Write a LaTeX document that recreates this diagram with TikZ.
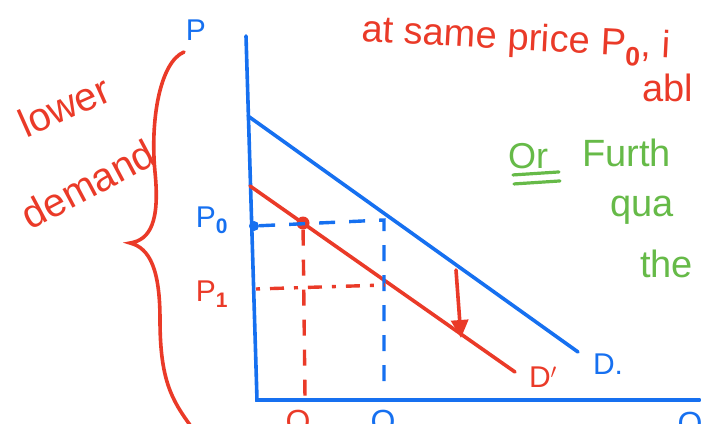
\documentclass[tikz,border=0pt]{standalone}
\usepackage{fontspec}
\setmainfont{Liberation Sans}
\usetikzlibrary{arrows.meta,positioning,calc}
\definecolor{penred}{RGB}{234,58,40}
\definecolor{penblue}{RGB}{22,112,240}
\definecolor{pengreen}{RGB}{102,186,72}

\begin{document}
\begin{tikzpicture}[
  x=1pt,y=-1pt,
  axis/.style={draw=penblue,line width=3.6pt,line cap=round},
  curve/.style={line width=3.6pt,line cap=round},
  guide/.style={line width=3.4pt,dash pattern=on 16pt off 14pt},
  dotguide/.style={line width=3.4pt,dash pattern=on 4pt off 10pt on 14pt off 10pt},
  redtxt/.style={text=penred,inner sep=0pt,font=\fontsize{30}{32}\selectfont},
  bluetxt/.style={text=penblue,inner sep=0pt,font=\fontsize{30}{32}\selectfont},
  greentxt/.style={text=pengreen,inner sep=0pt,font=\fontsize{38}{40}\selectfont,anchor=west},
  spot/.style={circle,inner sep=0pt,minimum size=13pt}
]
  \useasboundingbox (0,0) rectangle (701,423);
  \clip (0,0) rectangle (701,423);

  % axes
  \coordinate (ytop) at (246,36);
  \coordinate (origin) at (257,400);
  \coordinate (xend) at (700,400);
  \node[bluetxt] (plab) at (196,30) {P};
  \draw[axis] (ytop) -- (origin) -- (xend);
  \node[anchor=north,text=penred,font=\fontsize{32}{34}\selectfont] (q1lab) at (298,407) {Q};
  \node[anchor=north,text=penblue,font=\fontsize{32}{34}\selectfont] (q0lab) at (383,407) {Q};
  \node[anchor=north,text=penblue,font=\fontsize{32}{34}\selectfont] (qlab) at (690,409) {Q};

  % demand curves
  \coordinate (dtop) at (248,116);
  \coordinate (dend) at (578,352);
  \node[bluetxt] (dlab) at (608,364) {D.};
  \draw[curve,penblue] (dtop) -- (dend);
  \coordinate (d1top) at (250,186);
  \coordinate (d1end) at (515,372);
  \node[redtxt] (d1lab) at (543,377) {D$'$};
  \draw[curve,penred] (d1top) -- (d1end);

  % price levels
  \node[bluetxt] (p0lab) at (212,220) {P$_\mathbf{0}$};
  \node[redtxt] (p1lab) at (212,294) {P$_\mathbf{1}$};
  \node[spot,fill=penblue,minimum size=10pt] (p0dot) at (254,226) {};
  \node[spot,fill=penred] (qdot) at (303,223) {};
  \coordinate (corner0) at (384,220);
  \coordinate (foot0) at (384,392);
  \coordinate (foot1) at (305,398);
  \coordinate (p1start) at (256,289);
  \coordinate (p1end) at (385,285);
  \draw[guide,penblue] (p0dot) -- (corner0) -- (foot0);
  \draw[guide,penred] (qdot) -- (foot1);
  \draw[dotguide,penred] (p1start) -- (p1end);

  % shift
  \coordinate (shifttop) at (456,270);
  \coordinate (shiftbot) at (461,338);
  \draw[curve,penred,-{Triangle[length=18pt,width=17pt]}] (shifttop) -- (shiftbot);

  % brace and side note
  \draw[curve,penred] (184,52) .. controls (160,62) and (150,120) .. (155,172)
    .. controls (160,222) and (150,240) .. (130,243)
    .. controls (150,248) and (160,270) .. (160,320)
    .. controls (160,380) and (172,400) .. (190,425);
  \node[redtxt,rotate=24,font=\fontsize{40}{42}\selectfont] (lowertxt) at (64,106) {lower};
  \node[redtxt,rotate=28,font=\fontsize{40}{42}\selectfont] (demandtxt) at (88,184) {demand};

  % notes on the right
  \node[redtxt,anchor=west,rotate=-3,font=\fontsize{38}{40}\selectfont] (note1) at (362,33) {at same price P$_\mathbf{0}$, i};
  \node[redtxt,anchor=west,font=\fontsize{38}{40}\selectfont] (note2) at (642,88) {abl};
  \node[greentxt,font=\fontsize{36}{38}\selectfont] (ortxt) at (508,156) {Or};
  \draw[curve,pengreen,line width=3.2pt] (ortxt.south west) ++(5,6) coordinate (u1) -- ($(u1)+(46,-3)$);
  \draw[curve,pengreen,line width=3.2pt] (ortxt.south west) ++(6,15) coordinate (u2) -- ($(u2)+(46,-3)$);
  \node[greentxt] (furth) at (582,153) {Furth};
  \node[greentxt] (quan) at (610,210) {qua};
  \node[greentxt] (thetxt) at (640,264) {the};
\end{tikzpicture}
\end{document}
